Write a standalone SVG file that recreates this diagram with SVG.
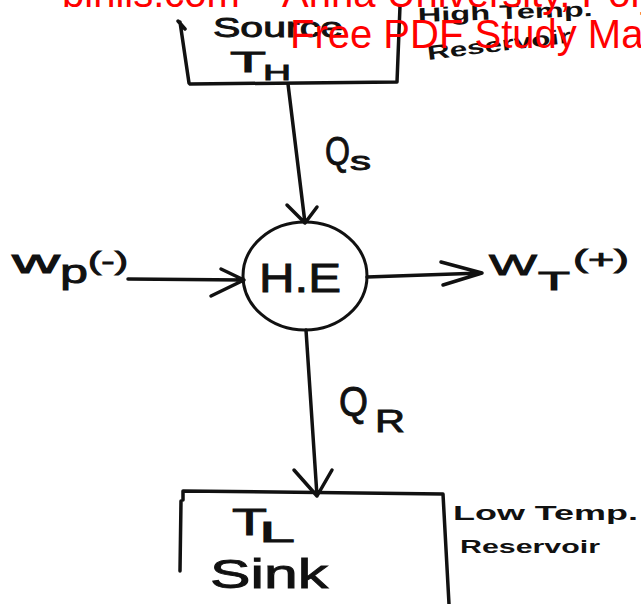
<svg xmlns="http://www.w3.org/2000/svg" width="641" height="604" viewBox="0 0 641 604">
  <style>
    .ink { fill: none; stroke: #111; stroke-width: 3.5; stroke-linecap: round; stroke-linejoin: round; }
    .hw { font-family: "Liberation Sans", "DejaVu Sans", sans-serif; font-weight: normal; fill: #111; stroke: #111; stroke-width: 0.9; }
    .note { font-family: "Liberation Sans", "DejaVu Sans", sans-serif; font-weight: bold; fill: #111; }
    .wm { font-family: "Liberation Sans", Arial, sans-serif; font-size: 40px; fill: #ff0000; }
  </style>
  <rect width="641" height="604" fill="#ffffff"/>

  <!-- High temperature reservoir (source) -->
  <g id="source">
    <path class="ink" d="M178,21 L185,29 M180,22 L189,83 L190,84 L397,82 L400,6"/>
    <text class="hw" x="213" y="37" font-size="28" textLength="130" lengthAdjust="spacingAndGlyphs">Source</text>
    <text class="hw" x="230" y="72" font-size="30" textLength="36" lengthAdjust="spacingAndGlyphs">T</text>
    <text class="hw" x="263" y="80" font-size="22" textLength="28" lengthAdjust="spacingAndGlyphs">H</text>
    <text class="note" x="418" y="22" font-size="20" textLength="175" lengthAdjust="spacingAndGlyphs" transform="rotate(-2 418 22)">High Temp.</text>
    <text class="note" x="428" y="60" font-size="20" textLength="145" lengthAdjust="spacingAndGlyphs" transform="rotate(-7 428 60)">Reservoir</text>
  </g>

  <!-- Heat engine -->
  <g id="engine">
    <ellipse cx="305" cy="276" rx="62" ry="54" fill="none" stroke="#111" stroke-width="3"/>
    <text class="hw" x="259" y="292" font-size="40" textLength="82" lengthAdjust="spacingAndGlyphs">H.E</text>
  </g>

  <!-- Low temperature reservoir (sink) -->
  <g id="sink">
    <path class="ink" d="M183,500 L183,491 L443,494 L449,604"/>
    <path class="ink" stroke-width="5" d="M181,501 L180,571"/>
    <text class="hw" x="232" y="535" font-size="36" textLength="35" lengthAdjust="spacingAndGlyphs">T</text>
    <text class="hw" x="259" y="542" font-size="30" textLength="36" lengthAdjust="spacingAndGlyphs">L</text>
    <text class="hw" x="210" y="588" font-size="40" textLength="118" lengthAdjust="spacingAndGlyphs">Sink</text>
    <text class="note" x="453" y="520" font-size="20" textLength="185" lengthAdjust="spacingAndGlyphs">Low Temp.</text>
    <text class="note" x="460" y="553" font-size="18" textLength="140" lengthAdjust="spacingAndGlyphs">Reservoir</text>
  </g>

  <!-- Energy flows -->
  <g id="connectors">
    <path class="ink" d="M288,84 L305,223 M287,205 L305,223 L317,207"/>
    <path class="ink" d="M128,279 L244,280 M221,269 L244,280 L211,296"/>
    <path class="ink" d="M367,277 L482,273 M441,262 L482,273 L443,285"/>
    <path class="ink" d="M306,330 L317,496 M294,470 L317,496 L332,470"/>
  </g>

  <!-- Flow labels -->
  <g id="labels">
    <text class="hw" x="325" y="165" font-size="40" textLength="25" lengthAdjust="spacingAndGlyphs">Q</text>
    <text class="hw" x="350" y="170" font-size="26" textLength="21" lengthAdjust="spacingAndGlyphs">s</text>

    <text class="hw" x="12" y="273" font-size="34" textLength="48" lengthAdjust="spacingAndGlyphs">w</text>
    <text class="hw" x="60" y="283" font-size="34" textLength="28" lengthAdjust="spacingAndGlyphs">p</text>
    <text class="hw" x="88" y="270" font-size="26" textLength="40" lengthAdjust="spacingAndGlyphs">(-)</text>

    <text class="hw" x="489" y="275" font-size="30" textLength="48" lengthAdjust="spacingAndGlyphs">W</text>
    <text class="hw" x="538" y="290" font-size="26" textLength="32" lengthAdjust="spacingAndGlyphs">T</text>
    <text class="hw" x="573" y="268" font-size="26" textLength="56" lengthAdjust="spacingAndGlyphs">(+)</text>

    <text class="hw" x="339" y="416" font-size="42" textLength="29" lengthAdjust="spacingAndGlyphs">Q</text>
    <text class="hw" x="375" y="432" font-size="32" textLength="30" lengthAdjust="spacingAndGlyphs">R</text>
  </g>

  <!-- Page stamp printed over the drawing -->
  <g id="stamp">
    <text class="wm" x="62" y="7">binils.com – Anna University, Polytechnic &amp; Schools</text>
    <text class="wm" x="290" y="48">Free PDF Study Materials</text>
  </g>
</svg>
